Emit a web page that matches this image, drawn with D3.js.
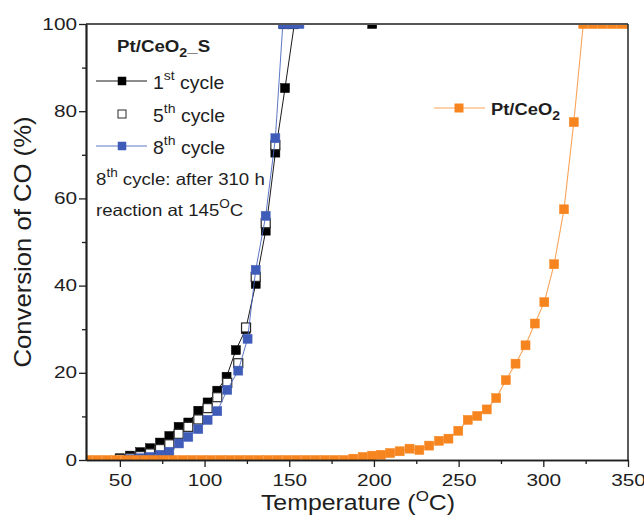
<!DOCTYPE html>
<html>
<head>
<meta charset="utf-8">
<script src="https://cdn.jsdelivr.net/npm/d3@7"></script>
<style>
  html, body { margin: 0; padding: 0; background: #fff; }
  svg { display: block; font-family: "Liberation Sans", Arial, sans-serif; }
</style>
</head>
<body>
<svg id="chart" width="644" height="515"></svg>
<script>
// Pt/CeO2_S, 1st cycle
const cycle1T = [50, 56, 62, 67.8, 73.7, 79.2, 84.7, 90.4, 96.3, 101.8, 107.5, 113, 118.5, 124.3, 130.2, 136.1, 141.8, 147.5, 153, 199];
const cycle1C = [0.4, 1.0, 1.8, 2.7, 4.0, 5.5, 7.6, 8.6, 11.3, 13.2, 15.9, 19.1, 25.2, 30.0, 40.4, 52.6, 70.5, 85.3, 100, 100];

// Pt/CeO2_S, 5th cycle
const cycle5T = [50, 56, 62, 67.8, 73.7, 79.2, 84.7, 90.4, 96.3, 101.8, 107.5, 113.4, 119.9, 124.5, 130.2, 136.1, 141.8, 146.8, 152];
const cycle5C = [0.2, 0.5, 0.9, 1.5, 2.5, 3.6, 6.0, 7.6, 9.3, 11.9, 14.4, 17.7, 22.2, 30.4, 42.0, 54.3, 72.2, 100, 100];

// Pt/CeO2_S, 8th cycle
const cycle8T = [56, 62, 67.8, 73.7, 79.2, 84.9, 90.4, 96.3, 101.8, 107.5, 113.4, 119.9, 125.4, 130.2, 136.1, 141.8, 146.2, 151, 156];
const cycle8C = [0.2, 0.4, 0.7, 1.2, 1.9, 3.8, 5.3, 7.1, 9.2, 11.2, 16.1, 20.5, 27.8, 43.6, 56.0, 73.8, 100, 100, 100];

// Pt/CeO2 reference catalyst
const refT = [31, 36.6, 42.2, 47.8, 53.4, 59, 64.6, 70.2, 75.8, 81.4, 87, 92.6, 98.2, 103.8, 109.4, 115, 120.6, 126.2,
              131.8, 137.4, 143, 148.6, 154.2, 159.8, 165.4, 171, 176.6, 182.2, 187.8, 193.4, 199, 204.2, 209.6, 215.2,
              221, 226.8, 232.6, 238.4, 244, 249.8, 255.4, 261, 266.6, 272.2, 277.9, 283.6, 289.5, 295, 300.6, 306.4,
              312.2, 318, 323.6, 329.2, 334.8, 340.4, 346, 351];
const refC = [0, 0, 0, 0, 0, 0, 0, 0, 0, 0, 0, 0, 0, 0, 0, 0, 0, 0,
              0, 0, 0, 0, 0, 0, 0, 0, 0, 0, 0.3, 0.7, 1.0, 1.2, 1.6, 2.0,
              2.6, 2.3, 3.3, 4.4, 4.9, 6.7, 9.2, 10.1, 11.6, 14.2, 18.3, 22.1, 26.3, 31.3, 36.2, 44.9,
              57.5, 77.5, 100, 100, 100, 100, 100, 100];

const xTicks = [50, 100, 150, 200, 250, 300, 350];
const yTicks = [0, 20, 40, 60, 80, 100];

const W = 644, H = 515;
const margin = { left: 86, right: 16, top: 24, bottom: 55 };
const svg = d3.select("#chart");
const INK = "#1e1e1e";

const x = d3.scaleLinear().domain([30, 350]).range([margin.left, W - margin.right]);
const y = d3.scaleLinear().domain([0, 100]).range([H - margin.bottom, margin.top]);

svg.append("defs").append("clipPath").attr("id", "plotClip")
  .append("rect")
  .attr("x", x.range()[0]).attr("y", y.range()[1])
  .attr("width", x.range()[1] - x.range()[0])
  .attr("height", y.range()[0] - y.range()[1]);

const zip = (ts, cs) => ts.map((t, i) => ({ t, c: cs[i] }));
const series = [
  { data: zip(cycle1T, cycle1C), line: "#000000", lw: 0.9, fill: "#000000", stroke: "#000000" },
  { data: zip(cycle5T, cycle5C), line: null, lw: 0, fill: "#ffffff", stroke: "#2a2a2a" },
  { data: zip(cycle8T, cycle8C), line: "#4a67c0", lw: 0.9, fill: "#3f5cb8", stroke: "#3f5cb8" },
  { data: zip(refT, refC), line: "#f9a45a", lw: 1.1, fill: "#f7851f", stroke: "#f7851f" }
];

const plot = svg.append("g").attr("clip-path", "url(#plotClip)");
const lineGen = d3.line().x(d => x(d.t)).y(d => y(d.c));
const M = 9;

series.forEach(s => {
  if (s.line) {
    plot.append("path").datum(s.data)
      .attr("d", lineGen).attr("fill", "none")
      .attr("stroke", s.line).attr("stroke-width", s.lw);
  }
  plot.append("g").selectAll("rect").data(s.data).join("rect")
    .attr("x", d => x(d.t) - M / 2).attr("y", d => y(d.c) - M / 2)
    .attr("width", M).attr("height", M)
    .attr("fill", s.fill).attr("stroke", s.stroke)
    .attr("stroke-width", s.fill === "#ffffff" ? 1.2 : 0.5);
});

// Frame: top and right edges
svg.append("line").attr("x1", x.range()[0]).attr("x2", x.range()[1])
  .attr("y1", y.range()[1]).attr("y2", y.range()[1])
  .attr("stroke", "#555").attr("stroke-width", 1.8);
svg.append("line").attr("x1", x.range()[1]).attr("x2", x.range()[1])
  .attr("y1", y.range()[1]).attr("y2", y.range()[0])
  .attr("stroke", "#333").attr("stroke-width", 1.6);

// Axes (tick labels use a horizontally widened face)
const TICK_SX = 1.3;
const xAxis = svg.append("g").attr("transform", `translate(0,${y.range()[0]})`)
  .call(d3.axisBottom(x).tickValues(xTicks).tickSize(7).tickPadding(8).tickSizeOuter(0));
const xMinor = svg.append("g").attr("transform", `translate(0,${y.range()[0]})`)
  .call(d3.axisBottom(x).tickValues([75, 125, 175, 225, 275, 325]).tickSize(4).tickFormat("").tickSizeOuter(0));
const yAxis = svg.append("g").attr("transform", `translate(${x.range()[0]},0)`)
  .call(d3.axisLeft(y).tickValues(yTicks).tickSize(7).tickPadding(2).tickSizeOuter(0));
const yMinor = svg.append("g").attr("transform", `translate(${x.range()[0]},0)`)
  .call(d3.axisLeft(y).tickValues([10, 30, 50, 70, 90]).tickSize(4).tickFormat("").tickSizeOuter(0));

[xAxis, yAxis, xMinor, yMinor].forEach(g => {
  g.select(".domain").attr("stroke", INK).attr("stroke-width", 1.7);
  g.selectAll(".tick line").attr("stroke", INK).attr("stroke-width", 1.3);
  g.selectAll(".tick text").attr("font-size", 16).attr("fill", INK)
    .attr("font-family", "Liberation Sans, Arial, sans-serif");
});
xAxis.selectAll(".tick text").attr("transform", `scale(${TICK_SX},1)`);
yAxis.selectAll(".tick text")
  .attr("x", -9 / TICK_SX)
  .attr("transform", `scale(${TICK_SX},1)`);

// Text placed at (px, py) and stretched horizontally by sx
function label(px, py, size, sx, opts = {}) {
  const g = svg.append("g").attr("transform",
    `translate(${px},${py})` + (opts.rotate ? ` rotate(${opts.rotate})` : "") + ` scale(${sx},1)`);
  return g.append("text").attr("x", 0).attr("y", 0)
    .attr("font-size", size).attr("fill", INK)
    .attr("font-weight", opts.bold ? "bold" : null)
    .attr("text-anchor", opts.anchor || "start");
}

// Axis titles
label(31, (y.range()[0] + y.range()[1]) / 2, 24, 1.07, { rotate: -90, anchor: "middle" })
  .text("Conversion of CO (%)");

const xt = label(358, 510, 22, 1.13, { anchor: "middle" });
xt.append("tspan").text("Temperature (");
xt.append("tspan").attr("font-size", 15).attr("dy", -9).text("O");
xt.append("tspan").attr("dy", 9).text("C)");

// Legend: Pt/CeO2_S group
const title = label(117, 52, 17, 1.1, { bold: true });
title.append("tspan").text("Pt/CeO");
title.append("tspan").attr("font-size", 13).attr("dy", 5).text("2");
title.append("tspan").attr("dy", -5).text("_S");

const legRows = [
  { y: 81, sup: "st", n: "1", s: series[0] },
  { y: 114, sup: "th", n: "5", s: series[1] },
  { y: 146, sup: "th", n: "8", s: series[2] }
];
legRows.forEach(r => {
  if (r.s.line) {
    svg.append("line").attr("x1", 96).attr("x2", 147).attr("y1", r.y).attr("y2", r.y)
      .attr("stroke", r.s.line).attr("stroke-width", r.s.lw);
  }
  svg.append("rect").attr("x", 122 - 4).attr("y", r.y - 4).attr("width", 8).attr("height", 8)
    .attr("fill", r.s.fill).attr("stroke", r.s.stroke).attr("stroke-width", r.s.fill === "#ffffff" ? 1 : 0.5);
  const t = label(153, r.y + 7.5, 18, 1.08);
  t.append("tspan").text(r.n);
  t.append("tspan").attr("font-size", 13).attr("dy", -9).text(r.sup);
  t.append("tspan").attr("dy", 9).text(" cycle");
});

const note1 = label(96, 185, 16.5, 1.13);
note1.append("tspan").text("8");
note1.append("tspan").attr("font-size", 12).attr("dy", -8).text("th");
note1.append("tspan").attr("dy", 8).text(" cycle: after 310 h");
const note2 = label(96, 216, 16.5, 1.13);
note2.append("tspan").text("reaction at 145");
note2.append("tspan").attr("font-size", 12).attr("dy", -8).text("O");
note2.append("tspan").attr("dy", 8).text("C");

// Legend: Pt/CeO2
const ref = series[3];
svg.append("line").attr("x1", 434).attr("x2", 485).attr("y1", 108).attr("y2", 108)
  .attr("stroke", ref.line).attr("stroke-width", ref.lw);
svg.append("rect").attr("x", 459 - 4.5).attr("y", 108 - 4.5).attr("width", 9).attr("height", 9)
  .attr("fill", ref.fill);
const rl = label(491, 115, 17, 1.08, { bold: true });
rl.append("tspan").text("Pt/CeO");
rl.append("tspan").attr("font-size", 13).attr("dy", 5).text("2");
</script>
</body>
</html>
